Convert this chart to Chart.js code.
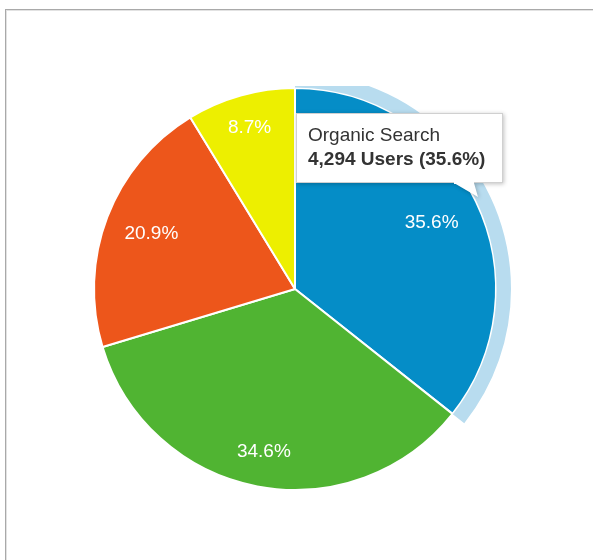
<!DOCTYPE html>
<html>
<head>
<meta charset="utf-8">
<script src="https://cdn.jsdelivr.net/npm/chart.js@4/dist/chart.umd.min.js"></script>
<style>
  html, body { margin: 0; padding: 0; background: #fff; }
  body { width: 593px; height: 560px; position: relative; overflow: hidden; }
  .frame {
    position: absolute; left: 5px; top: 9px; width: 600px; height: 560px;
    border-top: 1px solid #a9a9a9; border-left: 1px solid #a9a9a9;
    box-shadow: inset 1px 1px 0 #e2e2e2;
  }
  #pie { position: absolute; left: 0; top: 0; }
</style>
</head>
<body>
<div class="frame"></div>
<canvas id="pie" width="593" height="560"></canvas>
<script>
const channels = ["Organic Search", "Direct", "Referral", "Social"];
const shares = [35.6, 34.6, 20.9, 8.7];
const organicUsers = 4294;

// couleurs GA
const sliceColors = ["#058dc7", "#50b432", "#ed561b", "#edef00"];
const ringColor = "#b8dcef";
// distance des étiquettes depuis le centre (fraction du rayon)
const labelRadius = [0.755, 0.825, 0.765, 0.835];

const FONT = "'Liberation Sans', Arial, sans-serif";

const ctx = document.getElementById("pie").getContext("2d");

const overlay = {
  id: "overlay",
  afterDatasetsDraw(chart) {
    const c = chart.ctx;
    const arcs = chart.getDatasetMeta(0).data;

    // anneau de survol sur la première part
    const a = arcs[0];
    c.save();
    c.beginPath();
    c.rect(0, 86, chart.width, chart.height);
    c.clip();
    c.beginPath();
    c.arc(a.x, a.y, a.outerRadius + 15, a.startAngle, a.endAngle);
    c.arc(a.x, a.y, a.outerRadius + 0.5, a.endAngle, a.startAngle, true);
    c.closePath();
    c.fillStyle = ringColor;
    c.fill();
    c.restore();

    // pourcentages
    c.save();
    c.font = "19px " + FONT;
    c.fillStyle = "#fff";
    c.textAlign = "center";
    c.textBaseline = "middle";
    arcs.forEach((arc, i) => {
      const mid = (arc.startAngle + arc.endAngle) / 2;
      const r = arc.outerRadius * labelRadius[i];
      c.fillText(shares[i].toFixed(1) + "%", arc.x + Math.cos(mid) * r, arc.y + Math.sin(mid) * r);
    });
    c.restore();
  },
  afterDraw(chart) {
    const c = chart.ctx;
    const x = 296, y = 113, w = 207, h = 70;
    c.save();
    c.shadowColor = "rgba(0,0,0,0.25)";
    c.shadowBlur = 4;
    c.shadowOffsetX = 1;
    c.shadowOffsetY = 1;
    c.fillStyle = "#fff";
    c.beginPath();
    c.moveTo(x, y);
    c.lineTo(x + w, y);
    c.lineTo(x + w, y + h);
    c.lineTo(x + 178, y + h);
    c.lineTo(x + 182, y + h + 14);
    c.lineTo(x + 158, y + h);
    c.lineTo(x, y + h);
    c.closePath();
    c.fill();
    c.shadowColor = "transparent";
    c.strokeStyle = "#d0d0d0";
    c.lineWidth = 1;
    c.strokeRect(x + 0.5, y + 0.5, w - 1, h - 1);
    c.fillStyle = "#fff";
    c.fillRect(x + 158, y + h - 1, 20, 2);

    c.fillStyle = "#333";
    c.textAlign = "left";
    c.textBaseline = "alphabetic";
    c.font = "19px " + FONT;
    c.fillText(channels[0], x + 12, y + 28);
    c.font = "bold 19px " + FONT;
    c.fillText(organicUsers.toLocaleString("en-US") + " Users (" + shares[0].toFixed(1) + "%)", x + 12, y + 52);
    c.restore();
  }
};

new Chart(ctx, {
  type: "pie",
  data: {
    labels: channels,
    datasets: [{
      data: shares,
      backgroundColor: sliceColors,
      borderColor: "#fff",
      borderWidth: 2
    }]
  },
  options: {
    responsive: false,
    animation: false,
    layout: { padding: { left: 93, right: 96, top: 87, bottom: 69 } },
    plugins: {
      legend: { display: false },
      tooltip: { enabled: false }
    },
    events: []
  },
  plugins: [overlay]
});
</script>
</body>
</html>
